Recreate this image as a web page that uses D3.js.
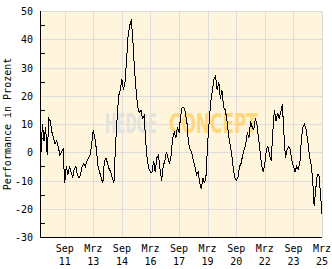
<!DOCTYPE html>
<html>
<head>
<meta charset="utf-8">
<script src="https://cdn.jsdelivr.net/npm/d3@7"></script>
<style>
  body { margin: 0; background: #fff; }
  svg text { font-family: "DejaVu Sans Mono", monospace; font-size: 10px; fill: #000; }
</style>
</head>
<body>
<svg id="chart"></svg>
<script>
const svg = d3.select("#chart")
    .attr("width", 332)
    .attr("height", 269);

// monthly performance values, first month Jun 2010
const startMonth = "2010-06";
const performance = [
    -1, 10, 4, 9, -1, 12, 11, 7, 5, 3,
    4, 2, -1, 0, 1, -11, -5, -8, -5, -7,
    -9, -6, -5, -8, -9, -8, -5, -4, -5, -3,
    -2, -1, 3, 8, 5, 1, -5, -7, -9, -11,
    -3, -2, -4, -6, -7, -9, -11, 2, 12, 20,
    22, 26, 22, 25, 33, 42, 45, 47, 39, 29,
    22, 16, 14, 15, 12, 13, 4, -3, -6, -7,
    -7, -3, -7, -2, -1, -6, -10, -5, -3, 0,
    -2, -4, -1, 5, 7, 5, 9, 7, 13, 16,
    16, 14, 10, 3, 1, 0, -3, -5, -8, -7,
    -11, -13, -9, -11, -8, 3, 11, 18, 22, 26,
    27, 22, 25, 19, 22, 16, 15, 12, 7, 3,
    0, -5, -9, -10, -9, -5, -4, -1, 1, 3,
    7, 5, 11, 9, 8, 12, 10, 5, 0, -5,
    -7, -4, 1, 2, -1, -3, 7, 15, 11, 14,
    12, 14, 17, 7, -2, 1, 2, 1, -3, -5,
    -7, -5, -6, -4, 5, 9, 10, 8, 4, -1,
    -4, -9, -19, -13, -8, -8, -15, -22
];

const xTickDates = ["2011-09", "2013-03", "2014-09", "2016-03", "2017-09",
    "2019-03", "2020-09", "2022-03", "2023-09", "2025-03"];
const xTickMonths = ["Sep", "Mrz", "Sep", "Mrz", "Sep", "Mrz", "Sep", "Mrz", "Sep", "Mrz"];
const xTickYears = ["11", "13", "14", "16", "17", "19", "20", "22", "23", "25"];
const yTicks = [50, 40, 30, 20, 10, 0, -10, -20, -30];
const yMinorTicks = [45, 35, 25, 15, 5, -5, -15, -25];

const parseMonth = d3.timeParse("%Y-%m");
const start = parseMonth(startMonth);
const data = performance.map((v, i) => ({ date: d3.timeMonth.offset(start, i), value: v }));

const plotLeft = 40, plotRight = 322, plotTop = 11, plotBottom = 237;

const x = d3.scaleTime()
    .domain([new Date(2010, 4, 16), parseMonth("2025-03")])
    .range([plotLeft, plotRight]);

const y = d3.scaleLinear()
    .domain([-30, 50])
    .range([plotBottom, plotTop]);

// plot background
svg.append("rect")
    .attr("x", plotLeft).attr("y", plotTop)
    .attr("width", plotRight - plotLeft).attr("height", plotBottom - plotTop)
    .attr("fill", "#fff5dc");

// grid
svg.append("g").selectAll("line").data(yTicks).join("line")
    .attr("x1", plotLeft).attr("x2", plotRight)
    .attr("y1", d => Math.round(y(d)) + 0.5).attr("y2", d => Math.round(y(d)) + 0.5)
    .attr("stroke", "#dcdcdc");

svg.append("g").selectAll("line").data(xTickDates).join("line")
    .attr("x1", d => Math.round(x(parseMonth(d))) + 0.5)
    .attr("x2", d => Math.round(x(parseMonth(d))) + 0.5)
    .attr("y1", plotTop).attr("y2", plotBottom)
    .attr("stroke", "#dcdcdc");

// watermark, squeezed horizontally to fit its width
function watermark(word, x0, width, color) {
    const t = svg.append("text")
        .style("font-family", "DejaVu Sans")
        .style("font-weight", "bold")
        .style("font-size", "27px")
        .style("fill", color)
        .text(word);
    const natural = t.node().getComputedTextLength();
    t.attr("transform", `translate(${x0},133) scale(${width / natural},1)`);
}
watermark("HEDGE", 105, 52, "#e3e3df");
watermark("CONCEPT", 169, 89, "#ffd87e");

// line
const line = d3.line()
    .x(d => x(d.date))
    .y(d => y(d.value));

svg.append("path")
    .datum(data)
    .attr("fill", "none")
    .attr("stroke", "#000")
    .attr("stroke-width", 1)
    .attr("shape-rendering", "crispEdges")
    .attr("d", line);

// axes
svg.append("line")
    .attr("x1", plotLeft + 0.5).attr("x2", plotLeft + 0.5)
    .attr("y1", plotTop).attr("y2", plotBottom + 0.5)
    .attr("stroke", "#000");
svg.append("line")
    .attr("x1", plotLeft).attr("x2", plotRight)
    .attr("y1", plotBottom + 0.5).attr("y2", plotBottom + 0.5)
    .attr("stroke", "#000");

svg.append("g").selectAll("line").data(yMinorTicks).join("line")
    .attr("x1", plotLeft).attr("x2", plotLeft + 5)
    .attr("y1", d => Math.round(y(d)) + 0.5).attr("y2", d => Math.round(y(d)) + 0.5)
    .attr("stroke", "#000");

svg.append("g").selectAll("text").data(yTicks).join("text")
    .attr("x", 33)
    .attr("y", d => y(d) + 4)
    .attr("text-anchor", "end")
    .text(d => d);

const xl = svg.append("g").selectAll("g").data(xTickDates).join("g")
    .attr("transform", d => `translate(${x(parseMonth(d))},0)`);
xl.append("text")
    .attr("y", 252).attr("text-anchor", "middle")
    .text((d, i) => xTickMonths[i]);
xl.append("text")
    .attr("y", 265).attr("text-anchor", "middle")
    .text((d, i) => xTickYears[i]);

svg.append("text")
    .attr("transform", `translate(11,${(plotTop + plotBottom) / 2}) rotate(-90)`)
    .attr("text-anchor", "middle")
    .text("Performance in Prozent");
</script>
</body>
</html>
